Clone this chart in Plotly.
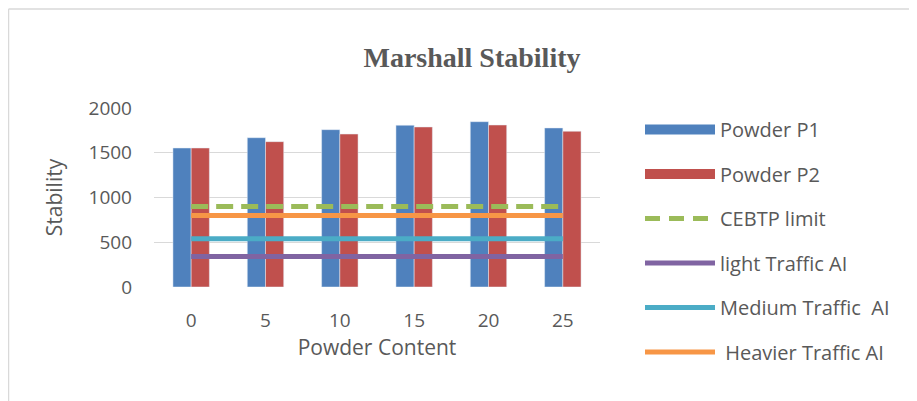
import plotly.graph_objects as go

# data
powder_content = ["0", "5", "10", "15", "20", "25"]
powder_p1 = [1553, 1668, 1758, 1807, 1847, 1777]
powder_p2 = [1553, 1624, 1709, 1788, 1810, 1740]
cebtp_limit = [900] * 6
light_traffic = [340] * 6
medium_traffic = [540] * 6
heavier_traffic = [800] * 6

# the page body has an 8px margin, so the figure is drawn 8px smaller
W, H = 909, 393
L, R, T, B = 146, 317, 100, 114
pw, ph = W - L - R, H - T - B


def px(x):
    return (x - L) / pw


def py(y):
    return (H - B - y) / ph


grey = "#595959"
blue = "#4f81bd"
red = "#c0504d"
green = "#9bbb59"
purple = "#8064a2"
cyan = "#4bacc6"
orange = "#f79646"

fig = go.Figure()

fig.add_trace(go.Bar(x=powder_content, y=powder_p1, marker_color=blue,
                     showlegend=False))
fig.add_trace(go.Bar(x=powder_content, y=powder_p2, marker_color=red,
                     showlegend=False))

lines = [
    ("CEBTP limit", cebtp_limit, green, "17px,8px"),
    ("Heavier Traffic AI", heavier_traffic, orange, "solid"),
    ("Medium Traffic  AI", medium_traffic, cyan, "solid"),
    ("light Traffic AI", light_traffic, purple, "solid"),
]
for name, vals, col, dash in lines:
    fig.add_trace(go.Scatter(x=powder_content, y=vals, mode="lines",
                             line=dict(color=col, width=5, dash=dash),
                             showlegend=False, hoverinfo="skip"))

# legend entries (legend only, in the reference order)
legend_items = [
    ("Powder P1", blue, 14, "solid"),
    ("Powder P2", red, 14, "solid"),
    ("CEBTP limit", green, 5, "15px,9px"),
    ("light Traffic AI", purple, 5, "solid"),
    ("Medium Traffic  AI", cyan, 5, "solid"),
    (" Heavier Traffic AI", orange, 5, "solid"),
]
for i, (name, col, w, dash) in enumerate(legend_items):
    fig.add_trace(go.Scatter(x=[None], y=[None], mode="lines", name=name,
                             legendgroup=str(i),
                             line=dict(color=col, width=w, dash=dash)))

fig.update_layout(
    width=W, height=H,
    margin=dict(l=L, r=R, t=T, b=B),
    paper_bgcolor="white", plot_bgcolor="white",
    font=dict(family="Open Sans, Liberation Sans, sans-serif", size=19, color=grey),
    barmode="group", bargap=0.51, bargroupgap=0,
    title=dict(text="<b>Marshall Stability</b>", x=464 / W, xanchor="center",
               y=1 - 49 / H, yanchor="middle",
               font=dict(family="Liberation Serif, serif", size=28, color=grey)),
    legend=dict(x=px(632), y=py(102), xanchor="left", yanchor="top",
                font=dict(size=20, color=grey), itemwidth=70,
                tracegroupgap=15.5, maxheight=390,
                bgcolor="rgba(0,0,0,0)"),
    shapes=[
        dict(type="line", xref="paper", yref="paper",
             x0=px(0.5), x1=px(W), y0=py(1), y1=py(1),
             line=dict(color="#d9d9d9", width=1.5)),
        dict(type="line", xref="paper", yref="paper",
             x0=px(0.5), x1=px(0.5), y0=py(1), y1=py(H),
             line=dict(color="#d9d9d9", width=1.5)),
    ],
)
fig.update_xaxes(type="category", showgrid=False, showline=False,
                 ticks="", ticklabelstandoff=20,
                 title=dict(text="Powder Content", font=dict(size=21, color=grey),
                            standoff=0))
fig.update_yaxes(range=[0, 2000], dtick=500, gridcolor="#d9d9d9", gridwidth=1,
                 zeroline=False, showline=False, ticks="", ticklabelstandoff=21,
                 title=dict(text="Stability", font=dict(size=21, color=grey),
                            standoff=20))

fig.write_html("out.html")
